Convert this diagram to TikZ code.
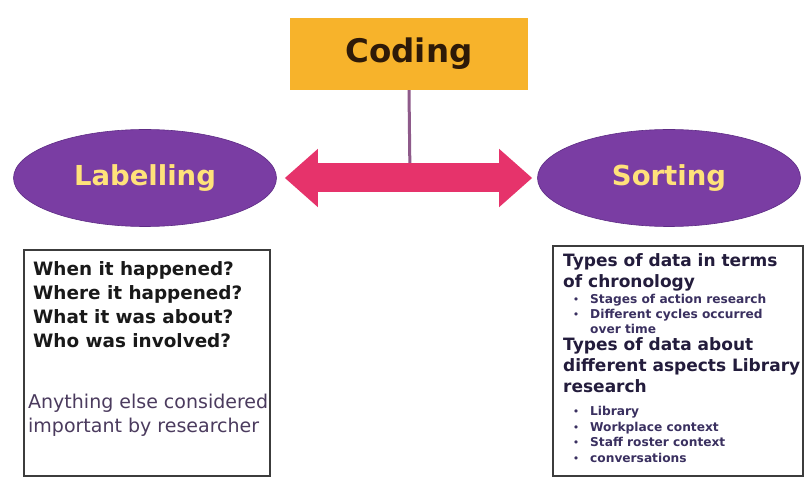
\documentclass[tikz,border=0pt]{standalone}
\usepackage{fontspec}
\setmainfont{DejaVu Sans}
\usetikzlibrary{shapes.geometric,arrows.meta}

\definecolor{codegold}{HTML}{F7B32B}
\definecolor{codeink}{HTML}{2E1A08}
\definecolor{ovalpurple}{HTML}{7A3DA3}
\definecolor{ovaledge}{HTML}{5E2C85}
\definecolor{ovalink}{HTML}{FFE27A}
\definecolor{linkpink}{HTML}{E6336B}
\definecolor{stemmauve}{HTML}{8E5A8A}
\definecolor{framegray}{HTML}{3C3C3C}
\definecolor{noteink}{HTML}{4B3B5E}
\definecolor{headink}{HTML}{231C3C}
\definecolor{itemink}{HTML}{3A3060}

\tikzset{
  titlebox/.style={rectangle, fill=codegold, minimum width=238pt, minimum height=72pt,
    inner sep=0pt, text=codeink, font=\fontsize{32.5}{34}\selectfont\bfseries},
  oval/.style={ellipse, fill=ovalpurple, draw=ovaledge, line width=0.6pt,
    minimum width=263pt, minimum height=97pt, inner sep=0pt,
    text=ovalink, font=\fontsize{27.5}{30}\selectfont\bfseries},
  panel/.style={rectangle, draw=framegray, line width=2.4pt, fill=white, inner sep=0pt},
  qline/.style={anchor=base west, inner sep=0pt, text=black!90,
    font=\fontsize{18.4}{20}\selectfont\bfseries},
  noteline/.style={anchor=base west, inner sep=0pt, text=noteink,
    font=\fontsize{19}{21}\selectfont},
  headline/.style={anchor=base west, inner sep=0pt, text=headink,
    font=\fontsize{17}{19}\selectfont\bfseries},
  itemline/.style={anchor=base west, inner sep=0pt, text=itemink,
    font=\fontsize{12.2}{14}\selectfont\bfseries},
  dot/.style={anchor=base, inner sep=0pt, text=itemink,
    font=\fontsize{11}{13}\selectfont},
  stem/.style={draw=stemmauve, line width=3pt},
  bigarrow/.style={draw=linkpink, line width=29pt,
    {Triangle[length=33pt, width=56pt]}-{Triangle[length=33pt, width=56pt]}}
}

\begin{document}
\begin{tikzpicture}[x=1pt, y=-1pt]
\useasboundingbox[fill=white] (0,0) rectangle (804,478);

% top box and the two ovals
\node[titlebox] (coding) at (409,54) {Coding};
\node[oval] (label) at (145,178) {Labelling};
\node[oval] (sort) at (669,178) {Sorting};

% stem from the title down to the double arrow
\coordinate (hub) at (410,178);
\draw[stem] (coding.south) -- (hub);

% double arrow between the ovals
\draw[bigarrow, shorten <=8pt, shorten >=5pt] (label.east) -- (sort.west);

% left panel
\node[panel, minimum width=246pt, minimum height=226pt] (lpanel) at (147,363) {};
\node[qline] (q1) at (33,276) {When it happened?};
\node[qline] (q2) at (33,300) {Where it happened?};
\node[qline] (q3) at (33,324) {What it was about?};
\node[qline] (q4) at (33,348) {Who was involved?};
\node[noteline] (n1) at (28,409) {Anything else considered};
\node[noteline] (n2) at (28,433) {important by researcher};

% right panel
\node[panel, minimum width=250pt, minimum height=230pt] (rpanel) at (678,361) {};
\node[headline] (h1) at (563,267) {Types of data in terms};
\node[headline] (h2) at (563,288) {of chronology};
\node[dot] (d1) at (576,304) {•};
\node[itemline] (i1) at (590,304) {Stages of action research};
\node[dot] (d2) at (576,319) {•};
\node[itemline] (i2) at (590,319) {Different cycles occurred};
\node[itemline] (i3) at (590,334) {over time};
\node[headline] (h3) at (563,351) {Types of data about};
\node[headline] (h4) at (563,372) {different aspects Library};
\node[headline] (h5) at (563,393) {research};
\node[dot] (d3) at (576,416) {•};
\node[itemline] (i4) at (590,416) {Library};
\node[dot] (d4) at (576,432) {•};
\node[itemline] (i5) at (590,432) {Workplace context};
\node[dot] (d5) at (576,447) {•};
\node[itemline] (i6) at (590,447) {Staff roster context};
\node[dot] (d6) at (576,463) {•};
\node[itemline] (i7) at (590,463) {conversations};
\end{tikzpicture}
\end{document}
